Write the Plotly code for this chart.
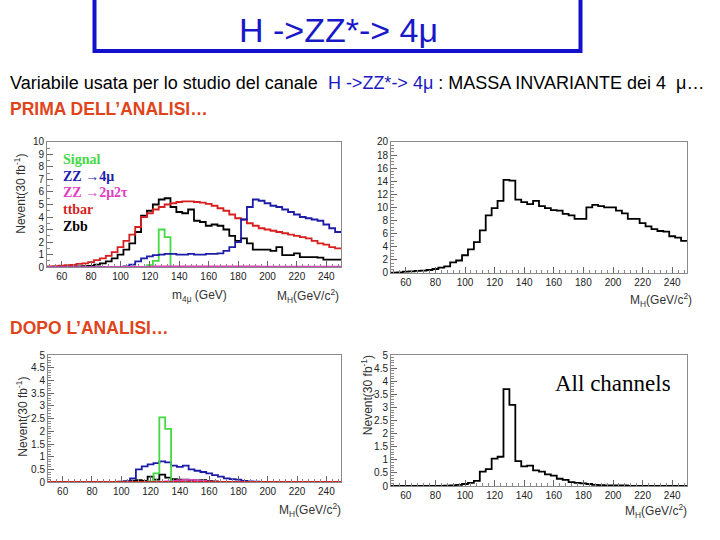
import plotly.graph_objects as go

W, H = 720, 540
def px(x): return x / W
def py(y): return 1 - y / H

# 4 GeV bins from 50 to 250 GeV
edges = [50 + 4 * i for i in range(51)]
x_ticks = [60, 80, 100, 120, 140, 160, 180, 200, 220, 240]

# ---- PRIMA DELL'ANALISI (top-left), Nevent per bin ----
signal_pre = [0]*17 + [0.15, 0.5, 3.0, 2.4] + [0]*29
zz4mu_pre = [0.0]*12 + [0.02, 0.05, 0.2, 0.45, 0.7, 0.85, 0.95, 1.0, 1.05, 1.05, 1.0, 1.0, 1.05,
             1.0, 1.0, 1.05, 1.05, 1.1, 1.3, 1.6, 2.0, 3.8, 4.8, 5.4, 5.3, 5.1, 4.9, 4.8, 4.6,
             4.4, 4.2, 4.0, 3.9, 3.8, 3.7, 3.4, 3.1, 2.8]
zz2mu2tau_pre = [0.0]*10 + [0.02]*8 + [0.06]*18 + [0.04]*14
ttbar_pre = [0.05, 0.08, 0.12, 0.15, 0.18, 0.25, 0.3, 0.4, 0.55, 0.7,
             0.9, 1.2, 1.6, 2.1, 2.6, 3.2, 4.0, 4.3, 4.6, 4.8,
             5.0, 5.1, 5.2, 5.25, 5.25, 5.2, 5.15, 5.05, 4.9, 4.7,
             4.5, 4.2, 3.9, 3.8, 3.5, 3.3, 3.1, 3.0, 2.9, 2.8,
             2.7, 2.6, 2.5, 2.4, 2.3, 2.1, 1.9, 1.8, 1.6, 1.5]
zbb_pre = [0.02, 0.02, 0.03, 0.03, 0.05, 0.05, 0.08, 0.1, 0.2, 0.3,
           0.45, 0.7, 1.0, 1.4, 1.9, 2.8, 4.1, 4.5, 5.0, 5.4,
           5.5, 4.8, 4.4, 4.3, 4.6, 3.7, 3.6, 3.3, 3.4, 3.3,
           3.0, 2.5, 2.1, 2.3, 1.9, 1.4, 1.4, 1.4, 1.3, 1.6,
           0.95, 0.95, 1.1, 0.8, 0.8, 0.8, 0.75, 0.6, 0.6, 0.6]

# ---- PRIMA DELL'ANALISI (top-right), total ----
total_pre = [0.05, 0.1, 0.2, 0.25, 0.3, 0.35, 0.45, 0.6, 0.8, 1.0,
             1.6, 1.9, 2.7, 3.6, 4.7, 6.5, 8.8, 9.9, 11.0, 14.2,
             14.1, 11.2, 10.8, 10.5, 11.0, 10.2, 9.9, 9.6, 9.5, 9.0,
             8.8, 8.25, 8.25, 10.0, 10.4, 10.2, 10.0, 10.0, 9.5, 9.1,
             8.25, 8.25, 7.6, 7.1, 6.7, 6.4, 6.3, 5.6, 5.4, 4.9]

# ---- DOPO L'ANALISI (bottom-left) ----
signal_post = [0]*17 + [0.03, 0.35, 2.55, 2.1] + [0]*29
zz4mu_post = [0]*13 + [0.03, 0.15, 0.5, 0.62, 0.7, 0.75, 0.82, 0.78, 0.65, 0.6, 0.65, 0.5,
              0.45, 0.4, 0.35, 0.28, 0.22, 0.15, 0.12, 0.1, 0.05, 0.03, 0.02] + [0]*14
zz2mu2tau_post = [0]*20 + [0.03, 0.05, 0.07, 0.09, 0.09, 0.07, 0.05, 0.03, 0.02] + [0]*21
ttbar_post = [0]*50
zbb_post = [0]*12 + [0.02, 0.03, 0.06, 0.08, 0.05, 0.22, 0.1, 0.3, 0.18, 0.12, 0.1, 0.1,
            0.08, 0.07, 0.08, 0.05, 0.03] + [0]*21

# ---- DOPO L'ANALISI (bottom-right), all channels ----
all_post = [0.01]*9 + [0.02, 0.03, 0.05, 0.08, 0.12, 0.2, 0.55, 0.65, 1.05, 1.12, 3.7,
            3.1, 0.95, 0.75, 0.78, 0.6, 0.55, 0.45, 0.4, 0.28, 0.24, 0.15, 0.12, 0.1, 0.08,
            0.05, 0.04, 0.03, 0.03, 0.03, 0.03] + [0.01]*10

C_SIG = "#45D845"
C_ZZ4 = "#1C1CA8"
C_ZZ2 = "#E43CC0"
C_TT = "#D81E1E"
C_ZBB = "#000000"

fig = go.Figure()

def add_hist(vals, color, n, width=1.8):
    fig.add_trace(go.Scatter(
        x=edges, y=list(vals) + [vals[-1]], mode="lines",
        line=dict(color=color, width=width, shape="hv"),
        xaxis="x" if n == 1 else f"x{n}", yaxis="y" if n == 1 else f"y{n}",
        showlegend=False, hoverinfo="skip"))

add_hist(zbb_pre, C_ZBB, 1)
add_hist(ttbar_pre, C_TT, 1)
add_hist(signal_pre, C_SIG, 1)
add_hist(zz4mu_pre, C_ZZ4, 1)
add_hist(zz2mu2tau_pre, C_ZZ2, 1)

add_hist(total_pre, C_ZBB, 2)

add_hist(zbb_post, C_ZBB, 3)
add_hist(zz2mu2tau_post, C_ZZ2, 3)
add_hist(zz4mu_post, C_ZZ4, 3)
add_hist(signal_post, C_SIG, 3)
add_hist(ttbar_post, C_TT, 3, width=2.2)

add_hist(all_post, C_ZBB, 4)

tickfont = dict(family="Liberation Sans, Arial, sans-serif", size=10, color="#222")

def xax(x0, x1, y_anchor):
    return dict(domain=[px(x0), px(x1)], anchor=y_anchor, range=[50, 250],
                tickmode="array", tickvals=x_ticks, ticks="inside", ticklen=6,
                tickcolor="#666", showline=True, linecolor="#8a8a8a", linewidth=1,
                mirror=True, showgrid=False, zeroline=False, tickfont=tickfont,
                minor=dict(dtick=4, tick0=0, ticks="inside", ticklen=3, tickcolor="#888"))

def yax(y_top, y_bot, rng, dt, mdt, x_anchor):
    return dict(domain=[py(y_bot), py(y_top)], anchor=x_anchor, range=rng, dtick=dt,
                tick0=0, ticks="inside", ticklen=6, tickcolor="#666", showline=True,
                linecolor="#8a8a8a", linewidth=1, mirror=True, showgrid=False,
                zeroline=False, tickfont=tickfont,
                minor=dict(dtick=mdt, ticks="inside", ticklen=3, tickcolor="#888"))

ann = []
def text(x, y, s, size, color="#000", family="Liberation Sans, Arial, sans-serif",
         xanchor="left", yanchor="middle", angle=0):
    ann.append(dict(x=px(x), y=py(y), xref="paper", yref="paper", text=s, showarrow=False,
                    xanchor=xanchor, yanchor=yanchor, textangle=angle,
                    font=dict(family=family, size=size, color=color)))

text(338, 25, "H -&gt;ZZ*-&gt; 4μ", 34, "#1818C8", xanchor="center")
text(8, 79, "Variabile usata per lo studio del canale  "
     "<span style='color:#1A1AC0'>H -&gt;ZZ*-&gt; 4μ</span> : MASSA INVARIANTE dei 4  μ…", 18)
text(8, 105, "<b>PRIMA DELL’ANALISI…</b>", 17.5, "#E0441A")
text(8, 329, "<b>DOPO L’ANALISI…</b>", 17.5, "#E0441A")

serif = "Liberation Serif, Times New Roman, serif"
text(61, 157, "<b>Signal</b>", 14, C_SIG, serif)
text(61, 174, "<b>ZZ →4μ</b>", 14, C_ZZ4, serif)
text(61, 191, "<b>ZZ →2μ2τ</b>", 14, C_ZZ2, serif)
text(61, 208, "<b>ttbar</b>", 14, C_TT, serif)
text(61, 225, "<b>Zbb</b>", 14, C_ZBB, serif)

text(553, 386, "All channels", 23, "#000", serif)

ylab = "Nevent(30 fb<sup>-1</sup>)"
text(20, 192, ylab, 12, "#333", xanchor="center", angle=-90)
text(22, 420, ylab, 12, "#333", xanchor="center", angle=-90)
text(367, 398, ylab, 12, "#333", xanchor="center", angle=-90)

mlab = "M<sub>H</sub>(GeV/c<sup>2</sup>)"
text(199, 297, "m<sub>4μ</sub> (GeV)", 12, "#333", xanchor="center")
text(308, 297, mlab, 12, "#333", xanchor="center")
text(661, 301, mlab, 12, "#333", xanchor="center")
text(310, 515, mlab, 12, "#333", xanchor="center")
text(656, 516, mlab, 12, "#333", xanchor="center")

fig.update_layout(
    width=W, height=H, autosize=False, margin=dict(l=0, r=0, t=0, b=0),
    paper_bgcolor="white", plot_bgcolor="white", showlegend=False,
    xaxis=xax(47, 341, "y"), yaxis=yax(139, 267, [0, 10], 1, 0.5, "x"),
    xaxis2=xax(391, 687, "y2"), yaxis2=yax(139, 273, [0, 20], 2, 0.5, "x2"),
    xaxis3=xax(48, 341, "y3"), yaxis3=yax(357, 487, [0, 5], 0.5, 0.1, "x3"),
    xaxis4=xax(391, 687, "y4"), yaxis4=yax(357, 491, [0, 5], 0.5, 0.1, "x4"),
    annotations=ann,
    shapes=[dict(type="rect", xref="paper", yref="paper", x0=px(94.5), x1=px(580.5),
                 y0=py(46), y1=py(-20), line=dict(color="#1212CC", width=4))],
)

fig.write_html("out.html", config={"displayModeBar": False},
               post_script="document.body.style.margin='0';document.body.style.padding='0';")
